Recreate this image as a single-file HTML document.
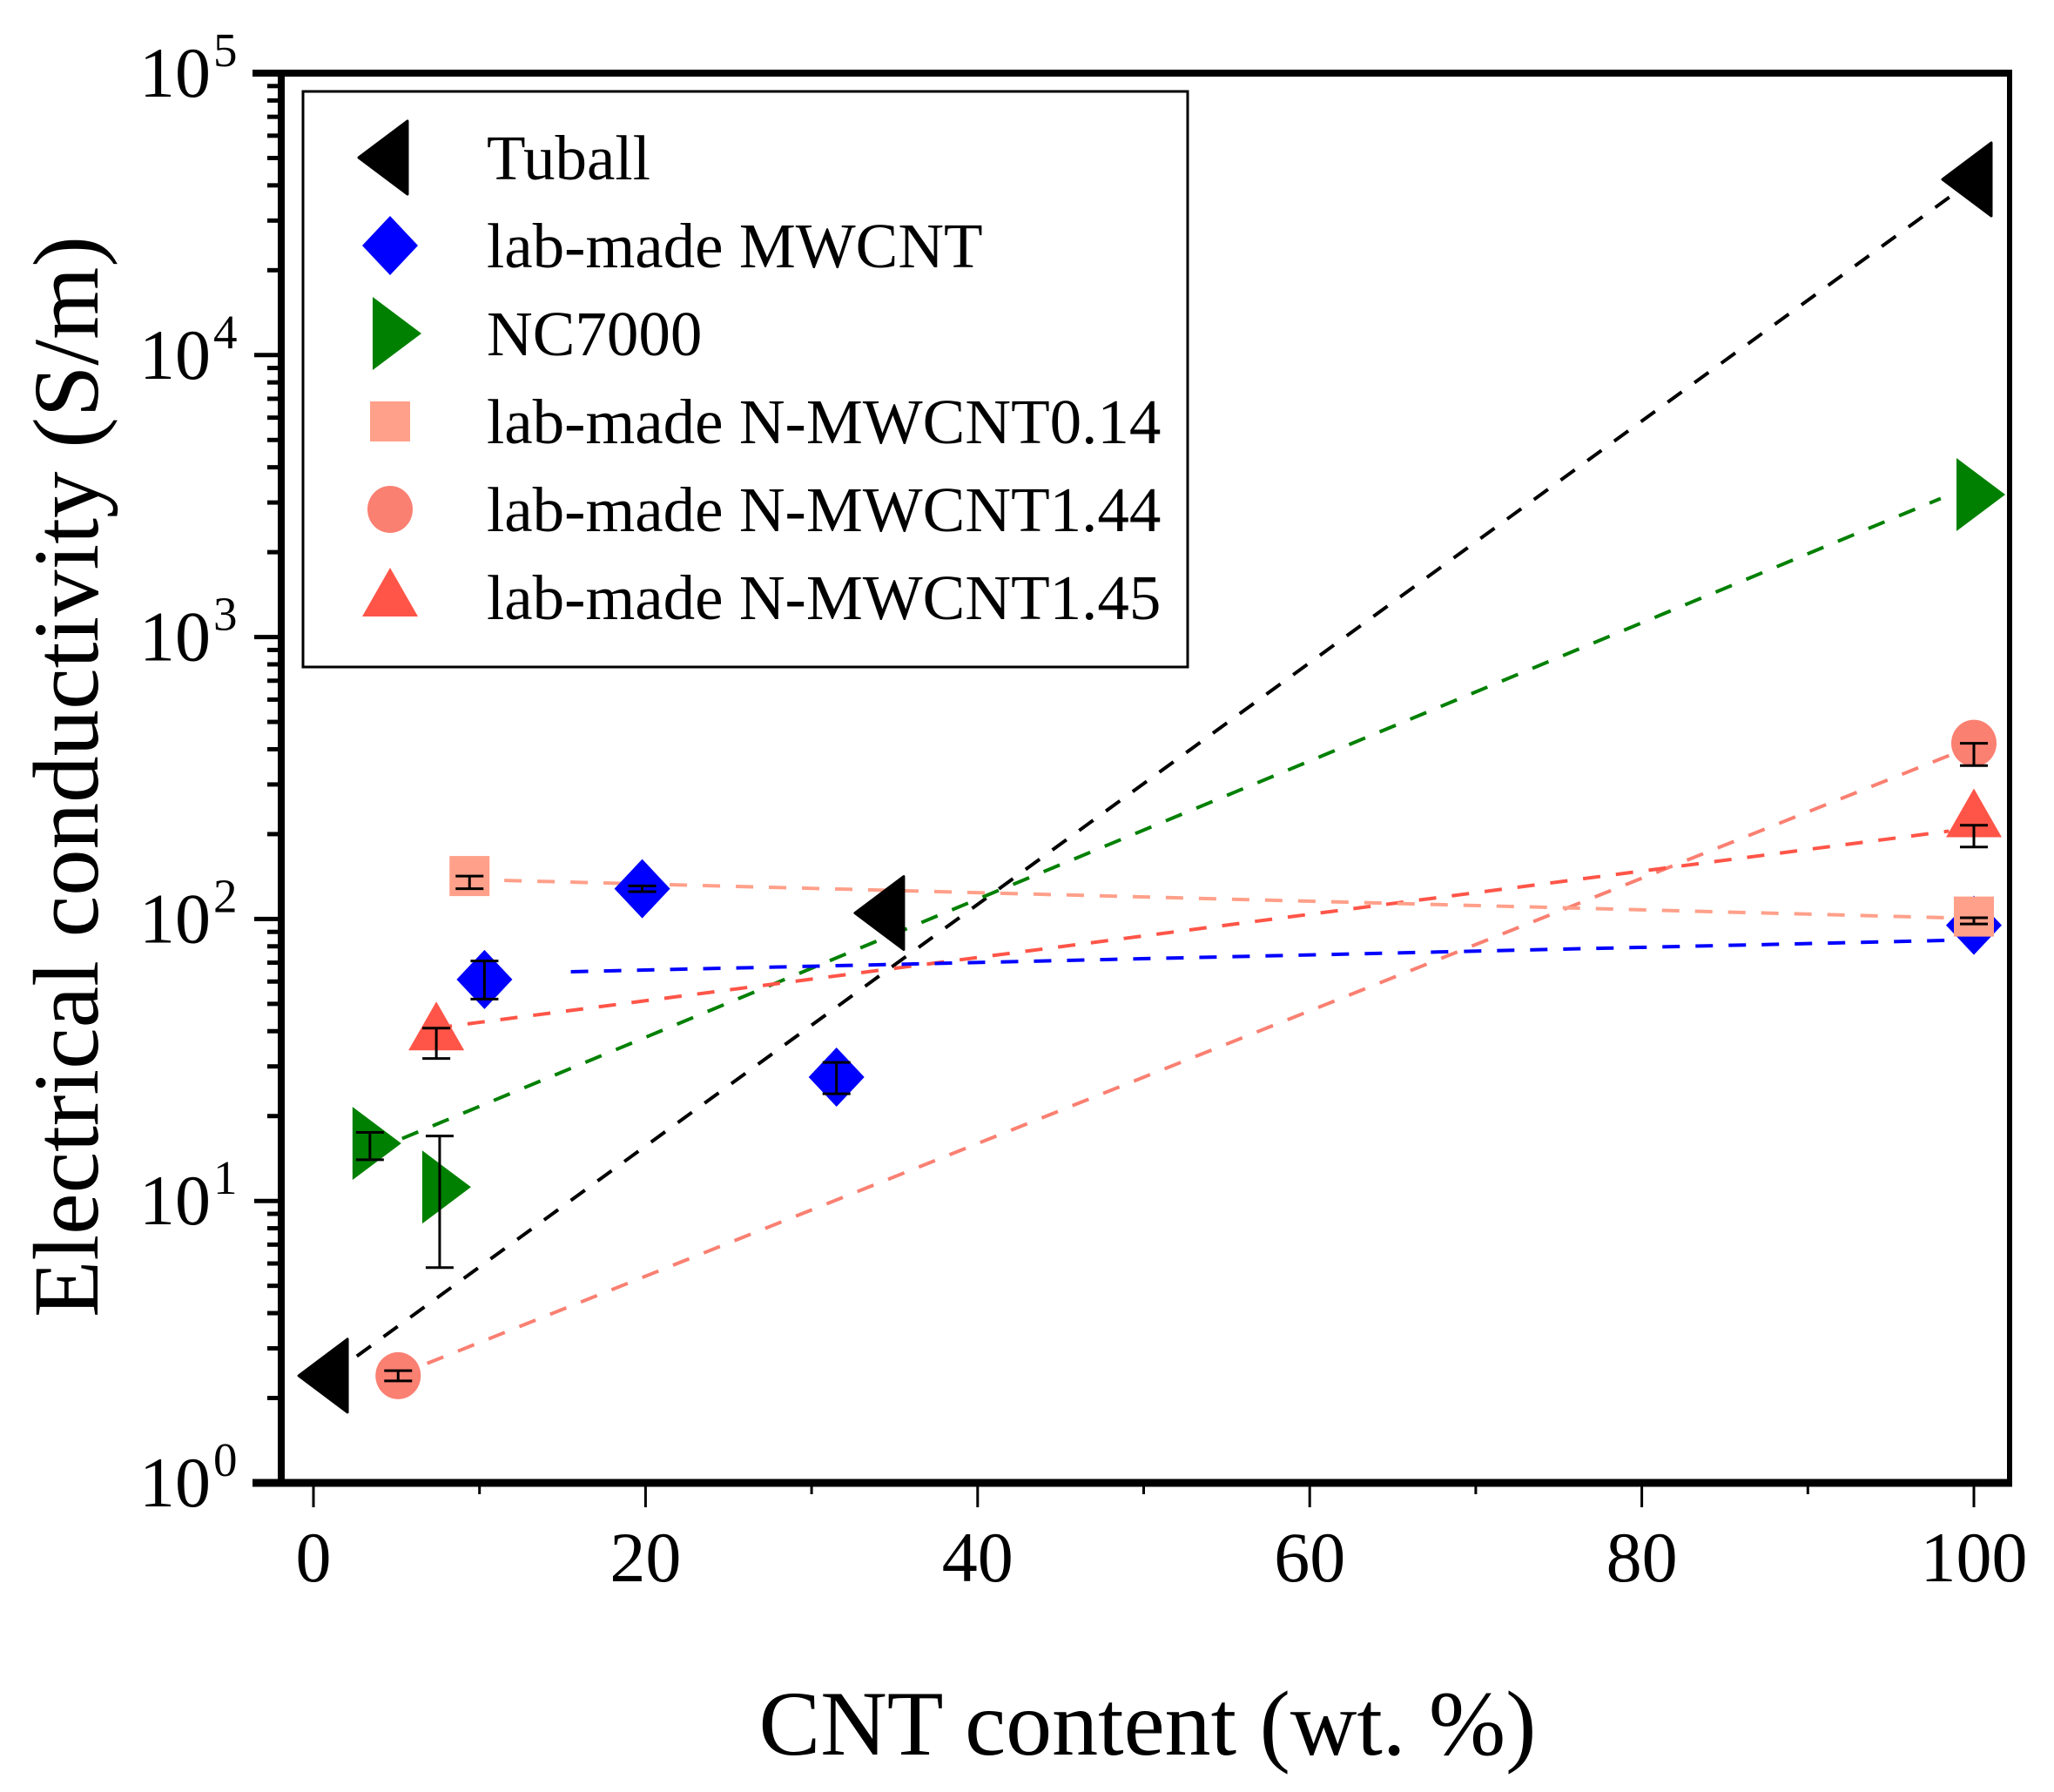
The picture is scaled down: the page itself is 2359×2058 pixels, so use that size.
<!DOCTYPE html>
<html><head><meta charset="utf-8"><style>
html,body{margin:0;padding:0;background:#fff;}
svg{display:block;}
text{font-family:"Liberation Serif",serif;fill:#000;}
</style></head><body>
<svg id="s" width="2359" height="2058" viewBox="0 0 2359 2058" xmlns="http://www.w3.org/2000/svg"></svg>
<script>
const s=document.getElementById('s');
const X=v=>360+19.07*v, Y=v=>1703-323.8*Math.log10(v);
let h='';
function dl(x1,y1,x2,y2,c){h+=`<line x1="${X(x1)}" y1="${Y(y1)}" x2="${X(x2)}" y2="${Y(y2)}" stroke="${c}" stroke-width="4" stroke-dasharray="20 18"/>`;}
dl(1,2.4,100,42000,'#000');
dl(3.5,15,98,3100,'#008000');
dl(5,2.4,98.5,380,'#fa8072');
dl(7.3,41,98.5,205,'#ff5548');
dl(9.5,138,98.5,101,'#ffa08a');
dl(15.5,65,98.5,84,'#0000ff');
function tl(cx,cy,c){h+=`<polygon points="${cx-36},${cy} ${cx+20},${cy-42} ${cx+20},${cy+42}" fill="${c}" stroke="${c}" stroke-width="3" stroke-linejoin="round"/>`;}
function tr(cx,cy,c){h+=`<polygon points="${cx+36},${cy} ${cx-20},${cy-42} ${cx-20},${cy+42}" fill="${c}"/>`;}
function di(cx,cy,c){h+=`<polygon points="${cx},${cy-34} ${cx+32},${cy} ${cx},${cy+34} ${cx-32},${cy}" fill="${c}"/>`;}
function sq(cx,cy,c){h+=`<rect x="${cx-23}" y="${cy-23}" width="46" height="46" fill="${c}"/>`;}
function ci(cx,cy,c){h+=`<ellipse cx="${cx}" cy="${cy}" rx="26" ry="27" fill="${c}"/>`;}
function tu(cx,cy,c){h+=`<polygon points="${cx},${cy-34} ${cx+32},${cy+22} ${cx-32},${cy+22}" fill="${c}"/>`;}
function eb(cx,y1,y2){h+=`<line x1="${cx}" y1="${y1}" x2="${cx}" y2="${y2}" stroke="#000" stroke-width="3"/><line x1="${cx-16}" y1="${y1}" x2="${cx+16}" y2="${y1}" stroke="#000" stroke-width="3"/><line x1="${cx-16}" y1="${y2}" x2="${cx+16}" y2="${y2}" stroke="#000" stroke-width="3"/>`;}
function p(f,x,y,c,e){const cx=X(x),cy=Y(y);f(cx,cy,c);if(e)eb(cx,Y(e[0]),Y(e[1]));}
p(tl,1,2.4,'#000');p(tl,34.5,105,'#000');p(tl,100,42000,'#000');
p(di,10.3,61,'#0000ff',[52,71]);p(di,19.8,128,'#0000ff',[125,131]);p(di,31.5,27.5,'#0000ff',[24,31]);p(di,100,95,'#0000ff',[91,99]);
p(tr,3.4,16,'#008000',[14,17.5]);p(tr,7.6,11.2,'#008000',[5.8,17]);p(tr,100,3200,'#008000');
p(sq,9.4,142,'#ffa08a',[128,142]);p(sq,100,102,'#ffa08a',[96,101]);
p(ci,5.1,2.4,'#fa8072',[2.3,2.5]);p(ci,100,420,'#fa8072',[350,420]);
p(tu,7.4,40,'#ff5548',[32,41]);p(tu,100,228,'#ff5548',[180,215]);
h+=`<rect x="323" y="84" width="1985" height="1619" fill="none" stroke="#000" stroke-width="6"/>`;
h+=`<line x1="290" y1="1703" x2="2311" y2="1703" stroke="#000" stroke-width="9"/>`;
h+=`<line x1="323" y1="81" x2="323" y2="1707" stroke="#000" stroke-width="8"/>`;
h+=`<line x1="290" y1="84" x2="2311" y2="84" stroke="#000" stroke-width="8"/>`;
for(let d=0;d<5;d++){for(let m=1;m<10;m++){const y=1703-323.8*(d+Math.log10(m));const L=m==1?31:16;h+=`<line x1="${323-L}" y1="${y}" x2="323" y2="${y}" stroke="#000" stroke-width="5"/>`;}}
for(let d=0;d<=5;d++){const y=1703-323.8*d;h+=`<text x="242" y="${y+27}" font-size="82" text-anchor="end">10</text><text x="245" y="${y-8}" font-size="55">${d}</text>`;}
for(let v=0;v<=100;v+=10){const x=X(v);const L=v%20==0?28:13;h+=`<line x1="${x}" y1="1703" x2="${x}" y2="${1703+L}" stroke="#000" stroke-width="3"/>`;if(v%20==0)h+=`<text x="${x}" y="1816" font-size="82" text-anchor="middle">${v}</text>`;}
h+=`<text x="1318" y="2015" font-size="106" text-anchor="middle">CNT content (wt. %)</text>`;
h+=`<text transform="translate(112,892) rotate(-90)" font-size="107" text-anchor="middle">Electrical conductivity (S/m)</text>`;
h+=`<rect x="348" y="105" width="1016" height="661" fill="#fff" stroke="#000" stroke-width="3"/>`;
const names=['Tuball','lab-made MWCNT','NC7000','lab-made N-MWCNT0.14','lab-made N-MWCNT1.44','lab-made N-MWCNT1.45'];
const fs=[tl,di,tr,sq,ci,tu],cs=['#000','#0000ff','#008000','#ffa08a','#fa8072','#ff5548'];
for(let i=0;i<6;i++){const cy=181+101*i;fs[i](448,cy,cs[i]);h+=`<text x="559" y="${cy+25}" font-size="73">${names[i]}</text>`;}
s.innerHTML=h;
</script>
</body></html>
